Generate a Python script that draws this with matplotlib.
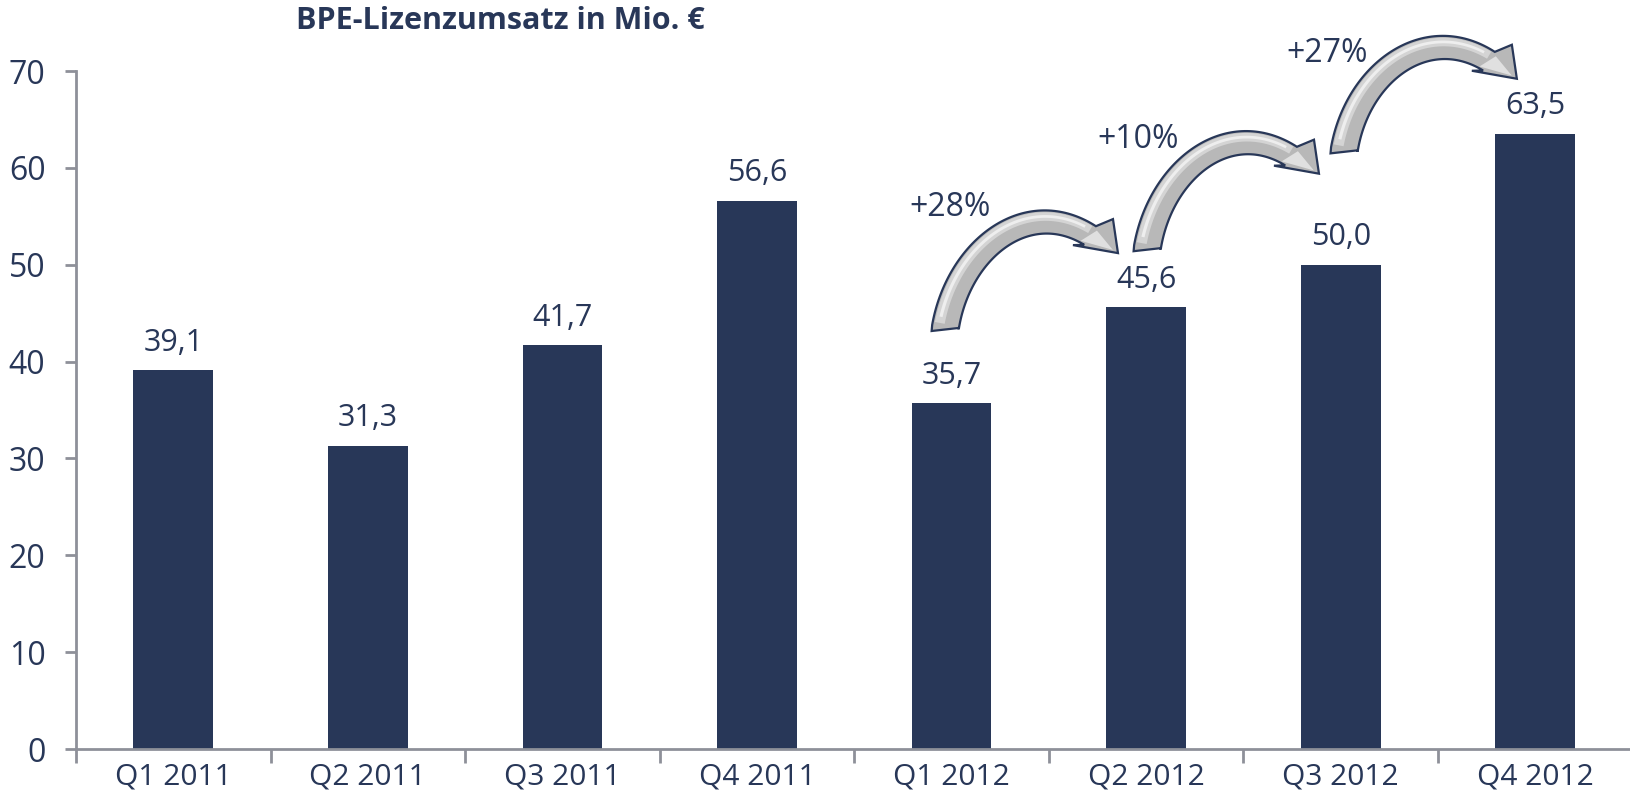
import matplotlib
matplotlib.use("Agg")
import matplotlib.pyplot as plt
import numpy as np
from matplotlib.patches import Polygon

categories = ["Q1 2011", "Q2 2011", "Q3 2011", "Q4 2011", "Q1 2012", "Q2 2012", "Q3 2012", "Q4 2012"]
values = [39.1, 31.3, 41.7, 56.6, 35.7, 45.6, 50.0, 63.5]
title = "BPE-Lizenzumsatz in Mio. €"
yticks = [0, 10, 20, 30, 40, 50, 60, 70]

# growth annotations: (from index, to index, label)
growth_from = [4, 5, 6]
growth_to = [5, 6, 7]
growth_labels = ["+28%", "+10%", "+27%"]

NAVY = "#283758"
GRAY = "#8e9099"
FONT = ["Open Sans", "DejaVu Sans"]
plt.rcParams["font.family"] = FONT

W, H = 1631, 806
fig = plt.figure(figsize=(W / 100, H / 100), dpi=100)
ax = fig.add_axes([0.0466, 0.0707, 0.9544, 0.8412])

x = np.arange(len(categories))
ax.bar(x, values, width=0.41, color=NAVY, zorder=2)

for xi, v in zip(x, values):
    ax.annotate(f"{v:.1f}".replace(".", ","), (xi, v), xytext=(0, 9),
                textcoords="offset points", ha="center", va="bottom",
                fontsize=22, color=NAVY)

ax.set_xlim(-0.5, len(categories) - 0.5)
ax.set_ylim(0, 70)
ax.set_yticks(yticks)
ax.set_yticklabels([str(t) for t in yticks])

ax.set_xticks(np.arange(len(categories) + 1) - 0.5)
ax.set_xticklabels([])
ax.set_xticks(x, minor=True)
ax.set_xticklabels(categories, minor=True)

ax.tick_params(axis="x", which="major", direction="out", length=10, width=2, color=GRAY)
ax.tick_params(axis="x", which="minor", length=0, pad=10, labelsize=21.5, labelcolor=NAVY)
ax.tick_params(axis="y", direction="out", length=8, width=2, color=GRAY, pad=14,
               labelsize=23, labelcolor=NAVY)

for s in ["top", "right"]:
    ax.spines[s].set_visible(False)
for s in ["left", "bottom"]:
    ax.spines[s].set_color(GRAY)
    ax.spines[s].set_linewidth(2)

# ---- curved growth arrows (drawn in pixel space on an overlay) ----
ov = fig.add_axes([0, 0, 1, 1], zorder=5)
ov.set_xlim(0, W)
ov.set_ylim(H, 0)
ov.axis("off")
ov.patch.set_alpha(0)


def to_img(px, py):
    d = ax.transData.transform((px, py))
    return np.array([d[0], H - d[1]])


def cubic(p0, p1, p2, p3, t):
    t = t[:, None]
    return ((1 - t) ** 3) * p0 + 3 * ((1 - t) ** 2) * t * p1 + 3 * (1 - t) * t ** 2 * p2 + t ** 3 * p3


def cubic_d(p0, p1, p2, p3, t):
    t = t[:, None]
    return 3 * ((1 - t) ** 2) * (p1 - p0) + 6 * (1 - t) * t * (p2 - p1) + 3 * t ** 2 * (p3 - p2)


def arrow_polys(A, tip):
    uA = np.array([0.15, -1.0]); uA /= np.linalg.norm(uA)
    uH = np.array([27.0, 17.0]); uH /= np.linalg.norm(uH)
    Hb = tip - 33 * uH
    chord = np.linalg.norm(Hb - A)
    P0, P1, P2, P3 = A, A + 0.46 * chord * uA, Hb - 0.44 * chord * uH, Hb
    t = np.linspace(0, 1, 80)
    P = cubic(P0, P1, P2, P3, t)
    D = cubic_d(P0, P1, P2, P3, t)
    D /= np.linalg.norm(D, axis=1)[:, None]
    N = np.stack([-D[:, 1], D[:, 0]], axis=1)  # inner side (+)
    w = np.linspace(27, 22, len(t))[:, None]

    def band(a, b):
        return P + a * w * N, P + b * w * N

    inner, outer = band(0.5, -0.5)
    inner[0] += [0, -4]
    outer[0] += [0, 3]
    barb_low = tip + np.array([-45, -8])
    barb_top = tip + np.array([-5, -34])
    main = np.vstack([inner, barb_low, tip, barb_top, outer[::-1]])
    h1a, h1b = band(-0.05, -0.42)
    hl1 = np.vstack([h1a[2:-1], h1b[2:-1][::-1]])
    h2a, h2b = band(-0.18, -0.30)
    hl2 = np.vstack([h2a[4:-3], h2b[4:-3][::-1]])
    hb = Hb + 0.0
    head_hl = np.vstack([hb + (barb_low - hb) * 0.55, tip - 6 * uH, hb + (barb_top - hb) * 0.3])
    return main, hl1, hl2, head_hl


tail_dx = [-0.034, 0.004, 0.016]
tail_dy = [7.56, 5.9, 11.6]
tip_dx = [-0.145, -0.112, -0.095]
tip_dy = [5.6, 9.4, 5.7]
text_dx = [-0.01, -0.04, -0.07]
text_dy = [20.2, 17.3, 21.8]

for k, (i, j, lab) in enumerate(zip(growth_from, growth_to, growth_labels)):
    A = to_img(x[i] + tail_dx[k], values[i] + tail_dy[k])
    tip = to_img(x[j] + tip_dx[k], values[j] + tip_dy[k])
    main, hl1, hl2, head_hl = arrow_polys(A, tip)
    ov.add_patch(Polygon(main, closed=True, facecolor="#b8b8b8", edgecolor=NAVY,
                         linewidth=1.6, joinstyle="miter"))
    ov.add_patch(Polygon(hl1, closed=True, facecolor="#d4d4d4", edgecolor="none"))
    ov.add_patch(Polygon(hl2, closed=True, facecolor="#eeeeee", edgecolor="none"))
    ov.add_patch(Polygon(head_hl, closed=True, facecolor="#e0e0e0", edgecolor="none"))
    ax.text(x[i] + text_dx[k], values[i] + text_dy[k], lab, ha="center", va="center",
            fontsize=23, color=NAVY, clip_on=False)

fig.text(500 / W, 1 - 21 / H, title, ha="center", va="center", fontsize=22,
         fontweight="bold", color=NAVY)

fig.savefig("out.png", dpi=100)
